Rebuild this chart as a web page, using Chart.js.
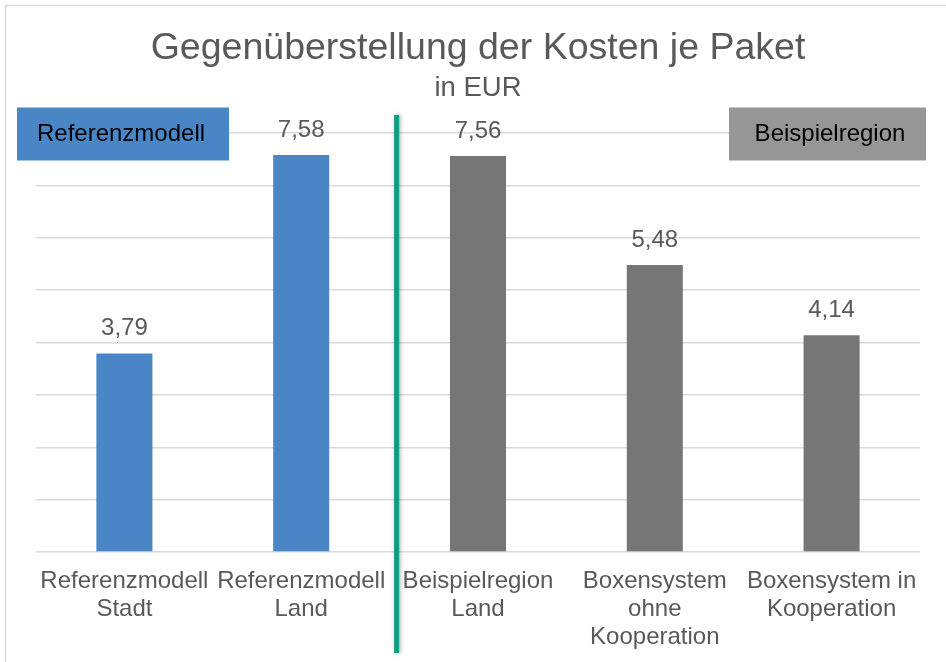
<!DOCTYPE html>
<html>
<head>
<meta charset="utf-8">
<script src="https://cdn.jsdelivr.net/npm/chart.js@4"></script>
<style>
    html, body { margin: 0; padding: 0; background: #fff; }
    canvas { display: block; }
</style>
</head>
<body>
<canvas id="kosten-chart" width="946" height="662"></canvas>
<script>
var categories = [
    ['Referenzmodell', 'Stadt'],
    ['Referenzmodell', 'Land'],
    ['Beispielregion', 'Land'],
    ['Boxensystem', 'ohne', 'Kooperation'],
    ['Boxensystem in', 'Kooperation']
];
var kosten = [3.79, 7.58, 7.56, 5.48, 4.14];
var gruppe = ['Referenzmodell', 'Referenzmodell', 'Beispielregion', 'Beispielregion', 'Beispielregion'];
var yMin = 0, yMax = 8, yStep = 1;

var blue = '#4A86C6', gray = '#767676', boxGray = '#969696', textGray = '#595959';
var font = '"Liberation Sans", Arial, sans-serif';

var barColors = gruppe.map(function (g) {
    return g === 'Referenzmodell' ? blue : gray;
});

var ctx = document.getElementById('kosten-chart');
var chart = new Chart(ctx, {
    type: 'bar',
    data: {
        labels: categories,
        datasets: [{
                data: kosten,
                backgroundColor: barColors,
                borderWidth: 0,
                categoryPercentage: 1,
                barPercentage: 0.317
            }]
    },
    options: {
        responsive: false,
        devicePixelRatio: 1,
        animation: false,
        layout: {
            padding: {left: 36, right: 26, top: 0, bottom: 0}
        },
        plugins: {
            legend: {display: false},
            tooltip: {enabled: false},
            title: {
                display: true,
                text: 'Gegenüberstellung der Kosten je Paket',
                color: textGray,
                font: {family: font, size: 37.5, weight: 'normal', lineHeight: 1},
                padding: {top: 30, bottom: 7}
            },
            subtitle: {
                display: true,
                text: 'in EUR',
                color: textGray,
                font: {family: font, size: 27.5, weight: 'normal', lineHeight: 1},
                padding: {top: 0, bottom: 31}
            }
        },
        scales: {
            x: {
                grid: {display: false, drawTicks: false},
                border: {display: false},
                ticks: {
                    color: textGray,
                    font: {family: font, size: 24, lineHeight: 1.167},
                    padding: 15,
                    maxRotation: 0,
                    autoSkip: false
                },
                afterFit: function (scale) {
                    scale.height = 110;
                }
            },
            y: {
                min: yMin,
                max: yMax,
                ticks: {display: false, stepSize: yStep},
                grid: {color: '#D9D9D9', lineWidth: 1.5, drawTicks: false},
                border: {display: false},
                afterFit: function (scale) {
                    scale.width = 0;
                }
            }
        }
    },
    plugins: [{
            id: 'rahmen-und-labels',
            beforeDraw: function (chart) {
                var c = chart.ctx;
                c.save();
                c.strokeStyle = '#D9D9D9';
                c.lineWidth = 1.5;
                c.strokeRect(5.5, 5.5, chart.width + 20, chart.height + 20);
                c.restore();
            },
            afterDatasetsDraw: function (chart) {
                var c = chart.ctx;
                var area = chart.chartArea;
                var meta = chart.getDatasetMeta(0);
                c.save();

                // values above the bars
                c.fillStyle = textGray;
                c.font = '24px ' + font;
                c.textAlign = 'center';
                c.textBaseline = 'middle';
                meta.data.forEach(function (bar, i) {
                    c.fillText(kosten[i].toFixed(2).replace('.', ','), bar.x, bar.y - 25);
                });

                // group boxes
                c.fillStyle = blue;
                c.fillRect(area.left - 19, area.top - 25.5, 212, 53);
                c.fillStyle = boxGray;
                c.fillRect(area.right - 191, area.top - 25.5, 197, 53);
                c.fillStyle = '#000';
                c.fillText('Referenzmodell', area.left - 19 + 104, area.top + 1);
                c.fillText('Beispielregion', area.right - 191 + 101, area.top + 1);

                // divider between the groups
                var xDiv = chart.scales.x.getPixelForValue(1.5) + 7;
                c.shadowColor = 'rgba(0,0,0,0.35)';
                c.shadowBlur = 4;
                c.shadowOffsetX = 1;
                c.fillStyle = '#0E9D84';
                c.fillRect(xDiv - 2.5, area.top - 18, 5, chart.height - 9 - (area.top - 18));
                c.restore();
            }
        }]
});
</script>
</body>
</html>
